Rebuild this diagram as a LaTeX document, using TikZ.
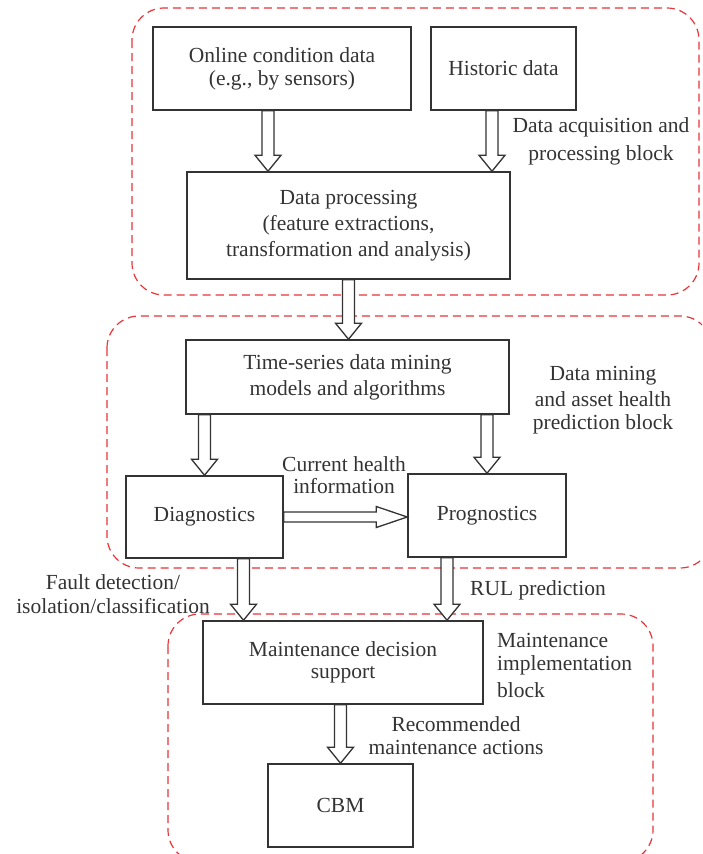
\documentclass[tikz,border=0pt]{standalone}
\usepackage{fontspec}
\setmainfont{Liberation Serif}
\usetikzlibrary{calc}

\definecolor{edgegray}{HTML}{333333}
\definecolor{blockred}{HTML}{E8343A}

\tikzset{
  box/.style={draw=edgegray, line width=1.5pt, align=center, inner sep=0pt},
  region/.style={draw=blockred, line width=1.2pt, dash pattern=on 8pt off 5pt, rounded corners=32pt},
  note/.style={align=center, inner sep=0pt},
  blockarrow/.style={draw=edgegray, fill=white, line width=1.3pt, line join=miter},
}

% hollow block arrows: start point, target anchor
\newcommand{\blockdown}[2]{%
  \draw[blockarrow] let \p1=(#1), \p2=(#2) in
    (\x1-6pt,\y1) -- (\x1-6pt,\y2+16pt) -- (\x1-13pt,\y2+16pt) -- (\x1,\y2)
    -- (\x1+13pt,\y2+16pt) -- (\x1+6pt,\y2+16pt) -- (\x1+6pt,\y1) -- cycle;}
\newcommand{\blockright}[2]{%
  \draw[blockarrow] let \p1=(#1), \p2=(#2) in
    (\x1,\y1+5pt) -- (\x2-31pt,\y1+5pt) -- (\x2-31pt,\y1+10.5pt) -- (\x2,\y1)
    -- (\x2-31pt,\y1-10.5pt) -- (\x2-31pt,\y1-5pt) -- (\x1,\y1-5pt) -- cycle;}

\begin{document}
\begin{tikzpicture}[x=1pt, y=-1pt, font=\fontsize{21.5}{26}\selectfont, text=edgegray]
    \useasboundingbox (0,0) rectangle (702,854);
    \clip (0,0) rectangle (702,854);

    % dashed blocks
    \draw[region] (132,8) rectangle (699,295);
    \draw[region] (107,316) rectangle (712,568);
    \draw[region] (168,614) rectangle (653,862);

    % boxes
    \node[box, minimum width=258pt, minimum height=83pt] (online) at (282,68.5)
        {Online condition data\\[-3pt](e.g., by sensors)};
    \node[box, minimum width=145pt, minimum height=83pt] (historic) at (503.5,68.5) {Historic data};
    \node[box, minimum width=323pt, minimum height=107pt] (dp) at (348.5,225.5)
        {Data processing\\(feature extractions,\\transformation and analysis)};
    \node[box, minimum width=323pt, minimum height=74pt] (ts) at (347.5,377)
        {Time-series data mining\\models and algorithms};
    \node[box, minimum width=157pt, minimum height=82pt] (diag) at (204.5,517) {Diagnostics};
    \node[box, minimum width=158pt, minimum height=83pt] (prog) at (487,515.5) {Prognostics};
    \node[box, minimum width=280pt, minimum height=83pt] (mds) at (343,662.5)
        {Maintenance decision\\[-4pt]support};
    \node[box, minimum width=145pt, minimum height=83pt] (cbm) at (340.5,805.5) {CBM};

    % arrows
    \blockdown{[xshift=-14pt]online.south}{dp.north}
    \blockdown{[xshift=-11.5pt]historic.south}{dp.north}
    \blockdown{dp.south}{ts.north}
    \blockdown{ts.south -| diag.north}{diag.north}
    \blockdown{ts.south -| prog.north}{prog.north}
    \blockright{diag.east}{prog.west}
    \blockdown{[xshift=39pt]diag.south}{mds.north}
    \blockdown{[xshift=-40pt]prog.south}{mds.north}
    \blockdown{mds.south -| cbm.north}{cbm.north}

    % labels
    \node[note] (acq) at (601,141) {Data acquisition and\\[2pt]processing block};
    \node[note] (mining) at (603,400) {Data mining\\and asset health\\[-3pt]prediction block};
    \node[note] (health) at (344,475) {Current health\\[-4pt]information};
    \node[note] (fault) at (113,594) {Fault detection/\\[-2pt]isolation/classification};
    \node[note] (rul) at (538,590) {RUL prediction};
    \node[note, align=left, anchor=west] (impl) at (497,665)
        {Maintenance\\[-3pt]implementation\\[1pt]block};
    \node[note] (rec) at (456,735.5) {Recommended\\[-3pt]maintenance actions};
\end{tikzpicture}
\end{document}
